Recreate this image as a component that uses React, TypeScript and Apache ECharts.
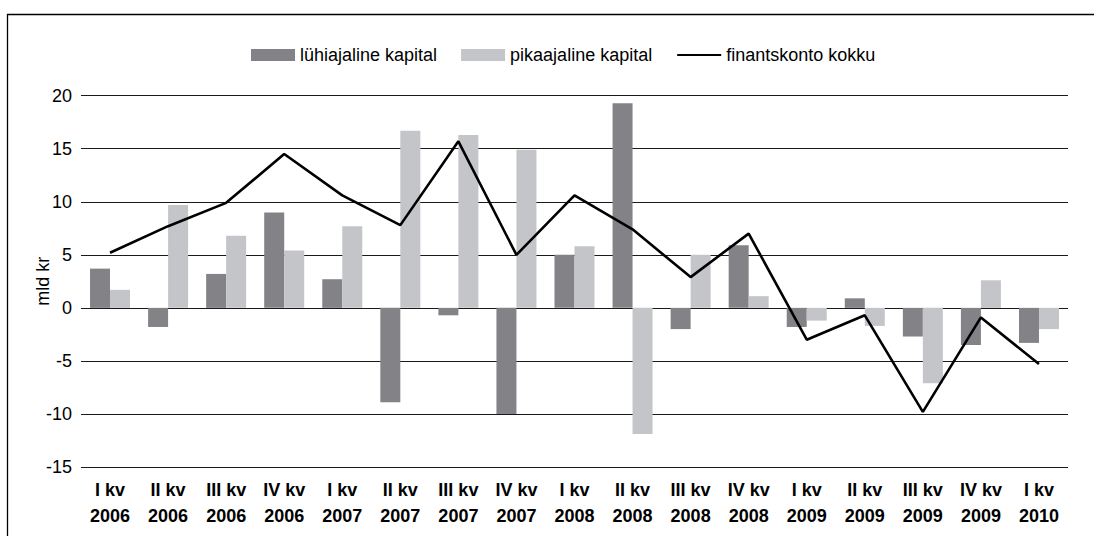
import React, { useEffect, useRef } from "react";
import * as echarts from "echarts";

const categories = [
  "I kv\n2006", "II kv\n2006", "III kv\n2006", "IV kv\n2006",
  "I kv\n2007", "II kv\n2007", "III kv\n2007", "IV kv\n2007",
  "I kv\n2008", "II kv\n2008", "III kv\n2008", "IV kv\n2008",
  "I kv\n2009", "II kv\n2009", "III kv\n2009", "IV kv\n2009",
  "I kv\n2010",
];

const luhiajaline = [3.7, -1.8, 3.2, 9.0, 2.7, -8.9, -0.7, -10.0, 5.0, 19.3, -2.0, 5.9, -1.8, 0.9, -2.7, -3.5, -3.3];
const pikaajaline = [1.7, 9.7, 6.8, 5.4, 7.7, 16.7, 16.3, 14.9, 5.8, -11.9, 5.0, 1.1, -1.2, -1.7, -7.1, 2.6, -2.0];
const finantskonto = [5.2, 7.7, 9.9, 14.5, 10.6, 7.8, 15.7, 5.0, 10.6, 7.4, 2.9, 7.0, -3.0, -0.7, -9.8, -0.9, -5.3];

const seriesNames = ["lühiajaline kapital", "pikaajaline kapital", "finantskonto kokku"];
const yTicks = { min: -15, max: 20, interval: 5 };

const FONT = "'Liberation Sans', Arial, Helvetica, sans-serif";

export default function App() {
  const ref = useRef<HTMLDivElement>(null);
  useEffect(() => {
    if (!ref.current) return;
    const chart = echarts.init(ref.current, null, { renderer: "svg" });
    chart.setOption({
      animation: false,
      backgroundColor: "#ffffff",
      textStyle: { fontFamily: FONT },
      graphic: [
        {
          type: "polyline",
          shape: { points: [[7.5, 540], [7.5, 14.5], [1100, 14.5]] },
          style: { stroke: "#000", lineWidth: 1.3, fill: "none" },
          silent: true,
        },
      ],
      legend: {
        left: 246,
        top: 41,
        itemWidth: 44,
        itemHeight: 12,
        itemGap: 24,
        textStyle: { fontSize: 18, color: "#000", fontFamily: FONT },
        data: [
          { name: seriesNames[0], icon: "rect" },
          { name: seriesNames[1], icon: "rect" },
          { name: seriesNames[2], itemStyle: { opacity: 0 } },
        ],
      },
      grid: { left: 81, right: 26, top: 95.7, bottom: 69, containLabel: false },
      xAxis: {
        type: "category",
        data: categories,
        boundaryGap: true,
        axisLine: { show: false },
        axisTick: { show: false },
        axisLabel: {
          interval: 0,
          color: "#000",
          fontWeight: "bold",
          fontSize: 18,
          lineHeight: 26,
          margin: 10,
          fontFamily: FONT,
        },
      },
      yAxis: {
        type: "value",
        min: yTicks.min,
        max: yTicks.max,
        interval: yTicks.interval,
        name: "mld kr",
        nameLocation: "middle",
        nameGap: 29,
        nameRotate: 90,
        nameMoveOverlap: false,
        nameTextStyle: { fontSize: 18, color: "#000", fontFamily: FONT },
        axisLine: { show: false },
        axisTick: { show: false },
        axisLabel: { color: "#000", fontSize: 18, margin: 9, fontFamily: FONT },
        splitLine: { show: true, lineStyle: { color: "#1a1a1a", width: 1.2 } },
      },
      series: [
        {
          name: seriesNames[0],
          type: "bar",
          data: luhiajaline,
          barWidth: 20,
          barGap: "0%",
          itemStyle: { color: "#838287" },
        },
        {
          name: seriesNames[1],
          type: "bar",
          data: pikaajaline,
          barWidth: 20,
          barGap: "0%",
          itemStyle: { color: "#c4c5c9" },
        },
        {
          name: seriesNames[2],
          type: "line",
          data: finantskonto,
          symbol: "none",
          lineStyle: { color: "#000", width: 2.6 },
          itemStyle: { color: "#000" },
          z: 5,
        },
      ],
    });
    return () => chart.dispose();
  }, []);
  return (
    <div
      ref={ref}
      style={{ position: "fixed", left: 0, top: 0, width: 1094, height: 536, background: "#fff" }}
    />
  );
}
